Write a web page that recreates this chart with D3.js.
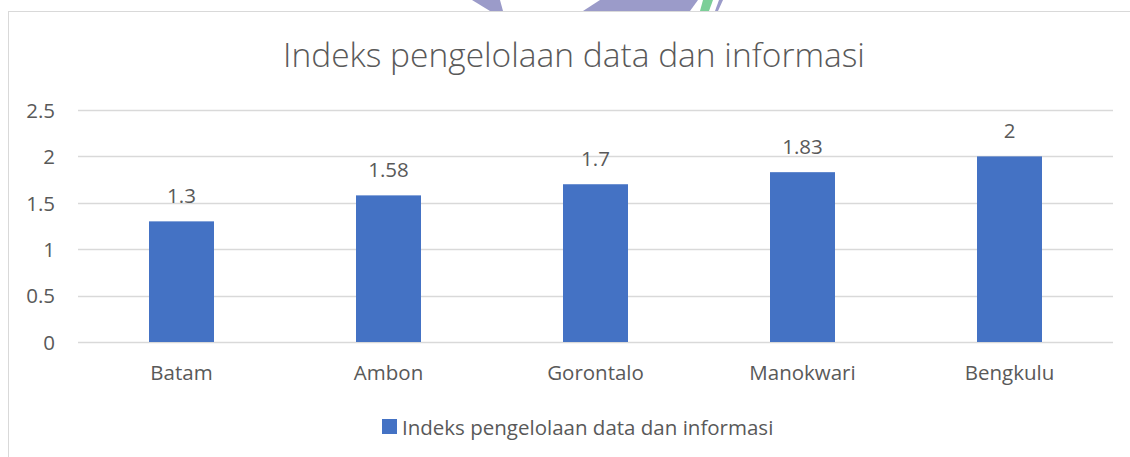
<!DOCTYPE html>
<html>
<head>
<meta charset="utf-8">
<script src="https://cdn.jsdelivr.net/npm/d3@7"></script>
<style>
  html, body { margin: 0; padding: 0; background: #ffffff; }
  svg { display: block; }
  text { font-family: "Open Sans", "Noto Sans", sans-serif; fill: #595959; }
</style>
</head>
<body>
<svg id="chart" width="1130" height="457"></svg>
<script>
// Chart data
const title = "Indeks pengelolaan data dan informasi";
const seriesName = "Indeks pengelolaan data dan informasi";
const categories = ["Batam", "Ambon", "Gorontalo", "Manokwari", "Bengkulu"];
const values = [1.3, 1.58, 1.7, 1.83, 2];
const yTicks = [0, 0.5, 1, 1.5, 2, 2.5];

const W = 1130, H = 457;
const FS = 20.5;
const svg = d3.select("#chart");

// Decorative emblem fragments peeking above the chart frame
const deco = svg.append("g");
deco.append("path").attr("d", "M472,0 L500,0 L503,11 L490,11 Z").attr("fill", "#9b9bc9");
deco.append("path").attr("d", "M600,0 L698,0 L690,11 L583,11 Z").attr("fill", "#9b9bc9");
deco.append("path").attr("d", "M703,0 L713,0 L709,11 L700,11 Z").attr("fill", "#7ccf98");
deco.append("path").attr("d", "M719,0 L723,0 L718,11 L715,11 Z").attr("fill", "#9b9bc9");

// Chart area background and frame
svg.append("rect").attr("x", 8.5).attr("y", 11.5).attr("width", W).attr("height", H)
  .attr("fill", "#ffffff").attr("stroke", "#d9d9d9").attr("stroke-width", 1);

const plot = { left: 78, right: 1113, top: 110, bottom: 342 };

const x = d3.scaleBand()
  .domain(categories)
  .range([plot.left, plot.right])
  .paddingInner(0.686)
  .paddingOuter(0.343);

const y = d3.scaleLinear()
  .domain([0, 2.5])
  .range([plot.bottom, plot.top]);

// Title
svg.append("text")
  .attr("x", 574).attr("y", 67)
  .attr("text-anchor", "middle")
  .style("font-size", "33.5px")
  .style("font-weight", "300")
  .text(title);

// Gridlines
svg.append("g").selectAll("line")
  .data(yTicks)
  .join("line")
  .attr("x1", plot.left).attr("x2", plot.right)
  .attr("y1", d => Math.round(y(d)) + 0.5).attr("y2", d => Math.round(y(d)) + 0.5)
  .attr("stroke", "#d9d9d9").attr("stroke-width", 1.5);

// Y axis labels
const yAxis = d3.axisLeft(y).tickValues(yTicks).tickSize(0).tickPadding(0)
  .tickFormat(d => String(d));
svg.append("g")
  .attr("transform", `translate(55,0)`)
  .call(yAxis)
  .call(g => g.select(".domain").remove())
  .call(g => g.selectAll("text")
    .attr("dy", "0.36em")
    .style("font-size", FS + "px")
    .style("font-family", "\"Open Sans\", sans-serif")
    .attr("fill", "#595959"));

// Bars
svg.append("g").selectAll("rect")
  .data(values)
  .join("rect")
  .attr("x", (d, i) => x(categories[i]))
  .attr("width", x.bandwidth())
  .attr("y", d => y(d))
  .attr("height", d => y(0) - y(d))
  .attr("fill", "#4472c4");

// Value labels
svg.append("g").selectAll("text")
  .data(values)
  .join("text")
  .attr("x", (d, i) => x(categories[i]) + x.bandwidth() / 2)
  .attr("y", d => y(d) - 18)
  .attr("text-anchor", "middle")
  .style("font-size", FS + "px")
  .text(d => String(d));

// Category labels
const xAxis = d3.axisBottom(x).tickSize(0).tickPadding(0);
svg.append("g")
  .attr("transform", `translate(0,${plot.bottom + 38})`)
  .call(xAxis)
  .call(g => g.select(".domain").remove())
  .call(g => g.selectAll("text")
    .attr("y", 0)
    .attr("dy", 0)
    .style("font-size", FS + "px")
    .style("font-family", "\"Open Sans\", sans-serif")
    .attr("fill", "#595959"));

// Legend
const legend = svg.append("g").attr("transform", "translate(382,419)");
legend.append("rect").attr("width", 15).attr("height", 15).attr("fill", "#4472c4");
legend.append("text").attr("x", 20).attr("y", 16)
  .style("font-size", FS + "px")
  .text(seriesName);
</script>
</body>
</html>
